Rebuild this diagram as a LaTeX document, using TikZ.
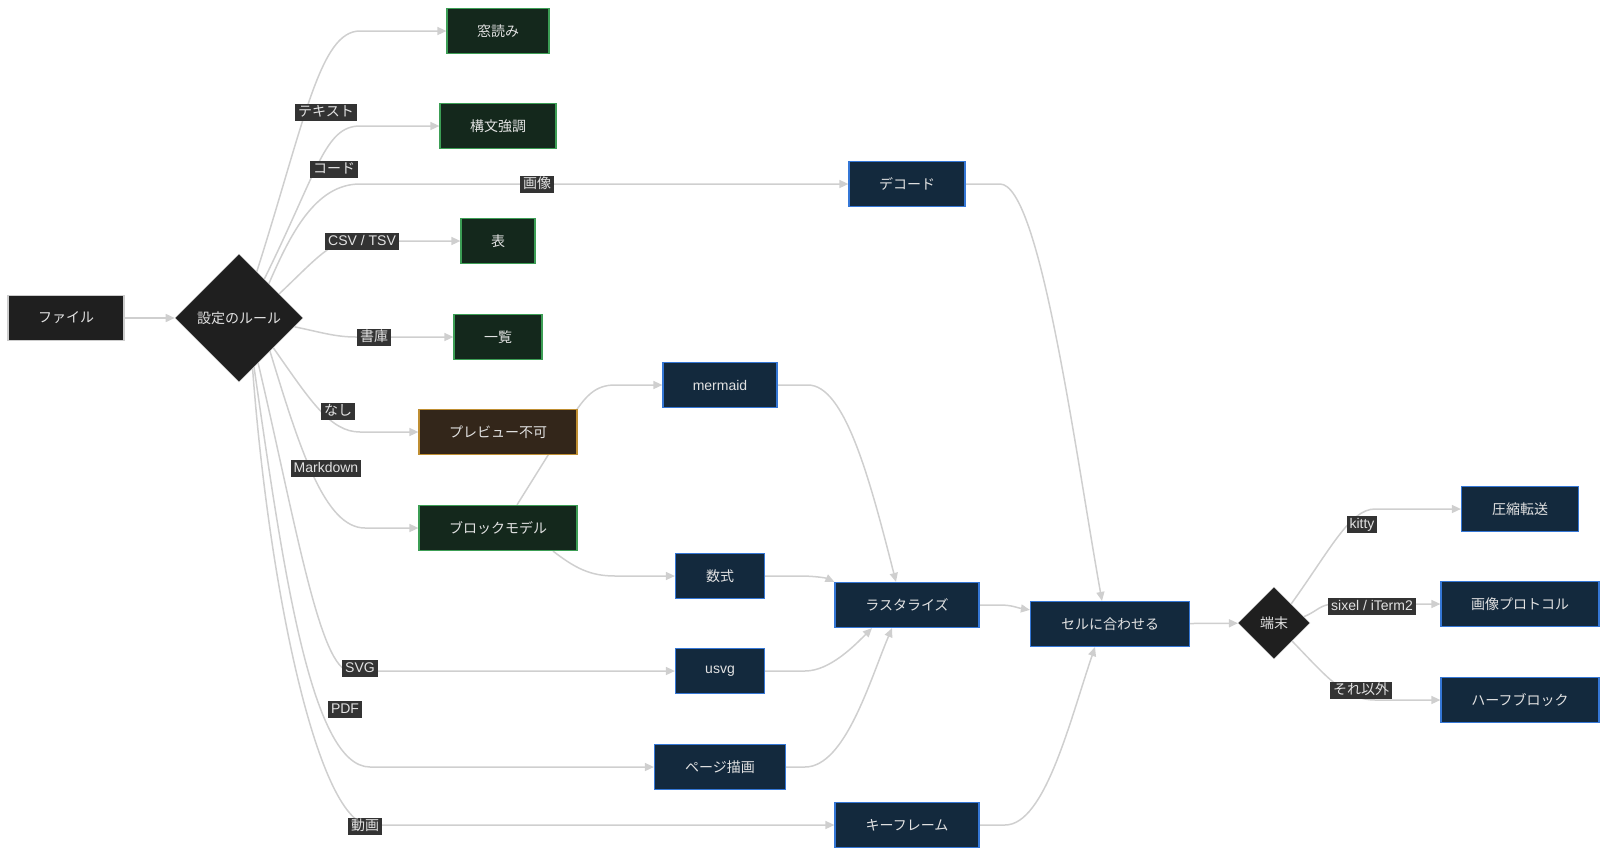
\documentclass[tikz,border=0pt]{standalone}
\usepackage{fontspec}
\setmainfont{Noto Sans CJK JP}
\newfontfamily\latinfont{Liberation Sans}
\usetikzlibrary{shapes.geometric,arrows.meta,calc,backgrounds}
\definecolor{edgegray}{HTML}{CFCFCF}
\definecolor{nodetext}{HTML}{E2E2E2}
\definecolor{grayfill}{HTML}{1F1F1F}
\definecolor{grayline}{HTML}{CCCCCC}
\definecolor{greenfill}{HTML}{14281C}
\definecolor{greenline}{HTML}{3C9E55}
\definecolor{bluefill}{HTML}{13293D}
\definecolor{blueline}{HTML}{3577D6}
\definecolor{brownfill}{HTML}{33261A}
\definecolor{brownline}{HTML}{BF8E32}
\definecolor{lblfill}{HTML}{333333}
\tikzset{
  box/.style = {
    draw, line width=1.2pt, minimum height=45pt, inner sep=0pt,
    text=nodetext, font=\fontsize{14}{16}\selectfont
  },
  filebox/.style = {box, fill=grayfill, draw=grayline},
  textbox/.style = {box, fill=greenfill, draw=greenline},
  imgbox/.style  = {box, fill=bluefill, draw=blueline},
  nobox/.style   = {box, fill=brownfill, draw=brownline},
  choice/.style  = {
    diamond, aspect=1, inner sep=0pt, fill=grayfill, draw=grayline,
    line width=0.5pt, text=nodetext, font=\fontsize{14}{16}\selectfont
  },
  lbl/.style = {
    fill=lblfill, text=nodetext, font=\fontsize{14}{16}\selectfont,
    inner xsep=3pt, inner ysep=1.5pt, text height=11pt, text depth=3pt
  },
  edge/.style = {->, draw=edgegray, line width=1.5pt}
}
\tikzset{>={Triangle[length=9pt,width=8pt]}}

\begin{document}
\begin{tikzpicture}[x=1pt,y=-1pt]
  \pgfmathsetmacro{\xtext}{498}     % x position of text viewers
  \pgfmathsetmacro{\ximg}{720}      % x position of image sources
  \pgfmathsetmacro{\xras}{907}      % x position of raster stage
  \pgfmathsetmacro{\xout}{1520}     % x position of outputs
  \useasboundingbox (0,0) rectangle (1607,855);
  % source and rule
  \node[filebox,minimum width=116pt] (file) at (66,318) {ファイル};
  \node[choice,minimum size=128pt] (rule) at (239,318) {設定のルール};
  % text viewers
  \node[textbox,minimum width=102pt] (mado)    at (\xtext,31)  {窓読み};
  \node[textbox,minimum width=116pt] (kobun)   at (\xtext,126) {構文強調};
  \node[textbox,minimum width=74pt]  (hyo)     at (\xtext,241) {表};
  \node[textbox,minimum width=88pt]  (ichiran) at (\xtext,337) {一覧};
  \node[nobox,minimum width=158pt]   (noprev)  at (\xtext,432) {プレビュー不可};
  \node[textbox,minimum width=158pt] (block)   at (\xtext,528) {ブロックモデル};
  % image sources
  \node[imgbox,minimum width=114pt] (mermaid) at (\ximg,385) {\latinfont mermaid};
  \node[imgbox,minimum width=89pt]  (sushiki) at (\ximg,576) {数式};
  \node[imgbox,minimum width=89pt]  (usvg)    at (\ximg,671) {\latinfont usvg};
  \node[imgbox,minimum width=131pt] (page)    at (\ximg,767) {ページ描画};
  % raster stage
  \node[imgbox,minimum width=116pt] (decode) at (\xras,184) {デコード};
  \node[imgbox,minimum width=144pt] (raster) at (\xras,605) {ラスタライズ};
  \node[imgbox,minimum width=144pt] (keyf)   at (\xras,825) {キーフレーム};
  \node[imgbox,minimum width=159pt] (fit)    at (1110,624) {セルに合わせる};
  % terminal and outputs
  \node[choice,minimum size=72pt] (term) at (1274,623) {端末};
  \node[imgbox,minimum width=117pt] (comp)  at (\xout,509) {圧縮転送};
  \node[imgbox,minimum width=158pt] (proto) at (\xout,604) {画像プロトコル};
  \node[imgbox,minimum width=158pt] (half)  at (\xout,700) {ハーフブロック};
  % edges
  \begin{scope}[on background layer]
    \draw[edge] (file) -- (rule);
    \draw[edge] (rule.69) .. controls (305,120) and (320,31) .. (360,31) -- (mado.west);
    \draw[edge] (rule.57) .. controls (318,170) and (325,126) .. (360,126) -- (kobun.west);
    \draw[edge] (rule.49) .. controls (290,235) and (315,184) .. (360,184) -- (decode.west);
    \draw[edge] (rule.31) .. controls (310,265) and (330,241) .. (350,241) -- (hyo.west);
    \draw[edge] (rule.-9) .. controls (320,332) and (335,337) .. (356,337) -- (ichiran.west);
    \draw[edge] (rule.-41) .. controls (310,400) and (330,432) .. (360,432) -- (noprev.west);
    \draw[edge] (rule.-47) .. controls (300,450) and (325,528) .. (365,528) -- (block.west);
    \draw[edge] (rule.-67) .. controls (295,520) and (320,671) .. (350,671) -- (usvg.west);
    \draw[edge] (rule.-73) .. controls (282,560) and (310,767) .. (370,767) -- (page.west);
    \draw[edge] (rule.-75) .. controls (270,600) and (320,825) .. (370,825) -- (keyf.west);
    \draw[edge] ($(block.north)+(19,0)$) -- (570,420) .. controls (585,396) and (595,385) .. (615,385) -- (mermaid.west);
    \draw[edge] ($(block.south)+(55,0)$) .. controls (575,568) and (590,576) .. (615,576) -- (sushiki.west);
    \draw[edge] (mermaid.east) -- (808,385) .. controls (845,385) and (870,480) .. ($(raster.north)+(-11,0)$);
    \draw[edge] (sushiki.east) -- (800,576) .. controls (815,576) and (826,578) .. (raster.north west);
    \draw[edge] (usvg.east) -- (805,671) .. controls (830,671) and (855,645) .. ($(raster.south)+(-35,0)$);
    \draw[edge] (page.east) -- (805,767) .. controls (845,767) and (870,680) .. ($(raster.south)+(-15,0)$);
    \draw[edge] (decode.east) -- (1000,184) .. controls (1040,184) and (1075,450) .. ($(fit.north)+(-8,0)$);
    \draw[edge] (raster.east) -- (1000,605) .. controls (1012,605) and (1018,608) .. (fit.170);
    \draw[edge] (keyf.east) -- (1005,825) .. controls (1045,825) and (1070,720) .. ($(fit.south)+(-15,0)$);
    \draw[edge] (fit) -- (term);
    \draw[edge] (term.48) .. controls (1330,550) and (1350,509) .. (1375,509) -- (comp.west);
    \draw[edge] (term.12) .. controls (1318,611) and (1320,604) .. (1335,604) -- (proto.west);
    \draw[edge] (term.-45) .. controls (1325,675) and (1345,700) .. (1375,700) -- (half.west);
  \end{scope}
  % labels
  \node[lbl] (ltext)  at (326,112)  {テキスト};
  \node[lbl] (lcode)  at (334,169)  {コード};
  \node[lbl] (limg)   at (537,184)  {画像};
  \node[lbl] (lcsv)   at (362,241)  {\latinfont CSV / TSV};
  \node[lbl] (larc)   at (374,337)  {書庫};
  \node[lbl] (lnone)  at (338,411)  {なし};
  \node[lbl] (lmd)    at (326,468)  {\latinfont Markdown};
  \node[lbl] (lsvg)   at (360,668)  {\latinfont SVG};
  \node[lbl] (lpdf)   at (345,709)  {\latinfont PDF};
  \node[lbl] (lvid)   at (365,826)  {動画};
  \node[lbl] (lkitty) at (1362,524) {\latinfont kitty};
  \node[lbl] (lsixel) at (1372,606) {\latinfont sixel / iTerm2};
  \node[lbl] (lelse)  at (1361,690) {それ以外};
\end{tikzpicture}
\end{document}
